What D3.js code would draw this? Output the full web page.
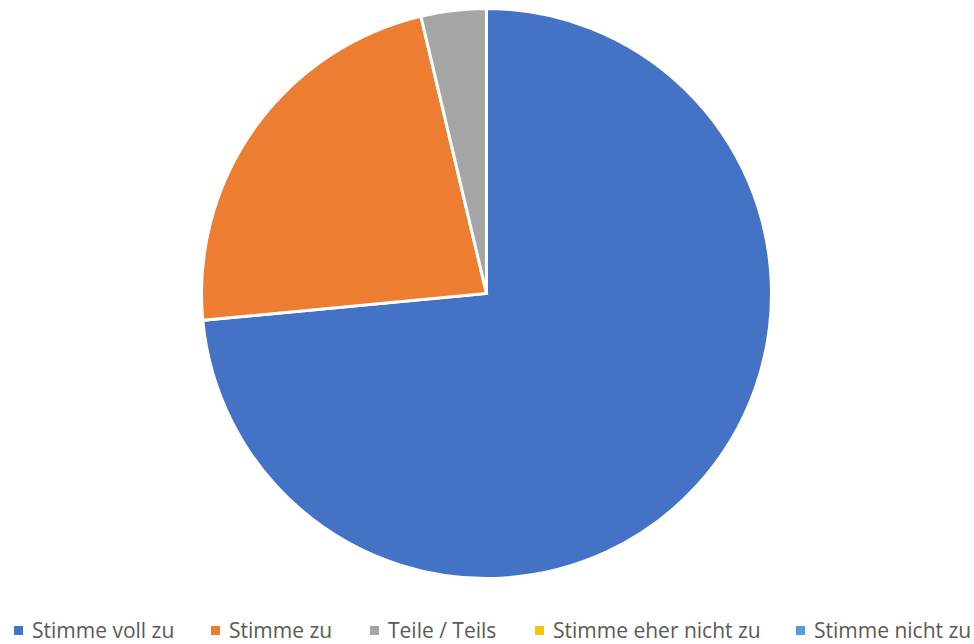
<!DOCTYPE html>
<html>
<head>
<meta charset="utf-8">
<script src="https://cdn.jsdelivr.net/npm/d3@7"></script>
<style>
html,body{margin:0;padding:0;background:#fff;}
svg{display:block;}
</style>
</head>
<body>
<svg id="chart" width="974" height="644"></svg>
<script>
const categories = ["Stimme voll zu", "Stimme zu", "Teile / Teils", "Stimme eher nicht zu", "Stimme nicht zu"];
const values = [73.5, 22.8, 3.7, 0, 0];
const colors = ["#4472C4", "#ED7D31", "#A5A5A5", "#FFC000", "#5B9BD5"];
const legendX = [14, 211, 370, 535, 796];

const svg = d3.select("#chart");
const cx = 486.5, cy = 293.5, r = 285;

const pie = d3.pie().sort(null).value(d => d.value);
const arcs = pie(categories.map((c, i) => ({name: c, value: values[i], color: colors[i]})));
const arc = d3.arc().innerRadius(0).outerRadius(r);

svg.append("g").attr("transform", `translate(${cx},${cy})`)
  .selectAll("path").data(arcs.filter(d => d.data.value > 0)).join("path")
  .attr("d", arc)
  .attr("fill", d => d.data.color)
  .attr("stroke", "#fff")
  .attr("stroke-width", 3)
  .attr("stroke-linejoin", "miter");

const lg = svg.append("g");
categories.forEach((c, i) => {
  const g = lg.append("g").attr("transform", `translate(${legendX[i]},0)`);
  g.append("rect").attr("x", 0).attr("y", 626).attr("width", 9).attr("height", 9).attr("fill", colors[i]);
  g.append("text").attr("x", 18).attr("y", 638)
    .attr("font-family", "'Open Sans', sans-serif")
    .attr("font-size", 21)
    .attr("fill", "#595959")
    .text(c);
});
</script>
</body>
</html>
